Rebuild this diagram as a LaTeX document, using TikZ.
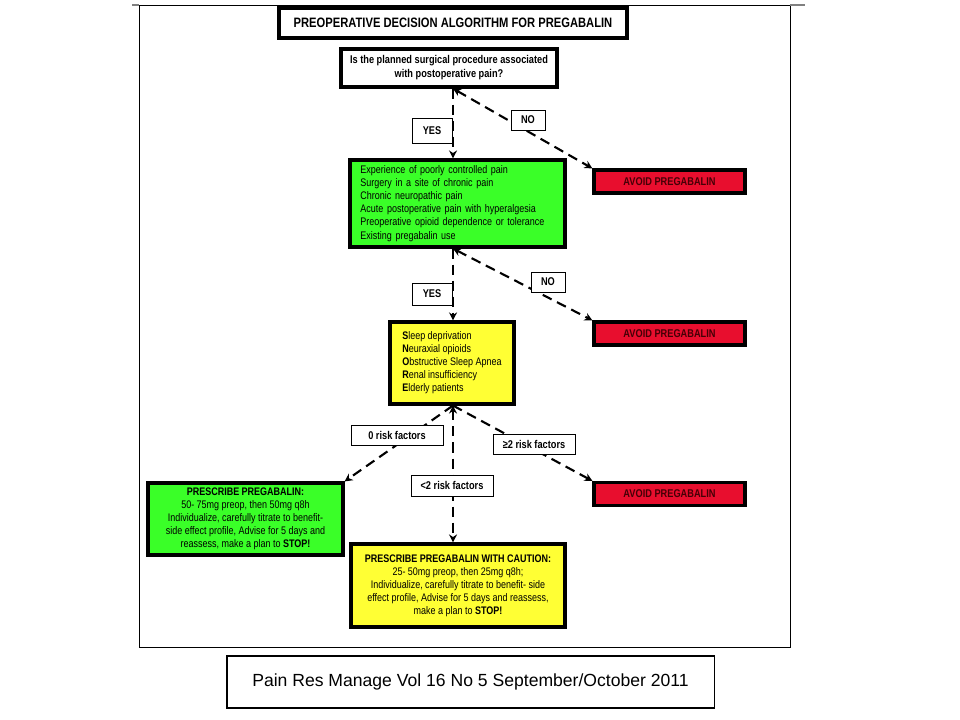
\documentclass[tikz,border=0pt]{standalone}
\usepackage{fontspec}
\setmainfont{Liberation Sans}
\newfontfamily\narrowfont[FakeStretch=0.82]{Liberation Sans}
\usepackage{xcolor}
\usepackage{tikz}
\usetikzlibrary{arrows.meta,positioning,calc}
\definecolor{gGreen}{RGB}{58,255,40}
\definecolor{gYellow}{RGB}{255,255,52}
\definecolor{gRed}{RGB}{232,14,46}
\definecolor{gRedText}{RGB}{70,0,6}
\tikzset{
  box/.style={rectangle, draw=black, line width=2.2pt, inner sep=0pt, font=\narrowfont\fontsize{7.8}{9.3}\selectfont},
  lbox/.style={box, align=left},
  cbox/.style={box, align=center},
  redbox/.style={box, fill=gRed, text=gRedText, minimum width=3.775cm, minimum height=0.575cm, font=\narrowfont\bfseries\fontsize{8}{9}\selectfont},
  tag/.style={rectangle, draw=black, line width=0.6pt, fill=white, inner sep=0pt, font=\narrowfont\bfseries\fontsize{8}{9}\selectfont},
  arrow/.style={{Stealth[length=2mm,width=2mm]}-{Stealth[length=2mm,width=2mm]}, line width=1.5pt, dash pattern=on 2.5mm off 1.5mm},
  arrowone/.style={-{Stealth[length=2mm,width=2mm]}, line width=1.5pt, dash pattern=on 2.5mm off 1.5mm}
}
\begin{document}
\begin{tikzpicture}[x=0.025cm, y=-0.025cm]
  \useasboundingbox (0,0) rectangle (960,720);
  % slide frame
  \draw[line width=0.6pt] (139,5) rectangle (790,647);
  \draw[gray, line width=0.8pt] (132,5) -- (139,5) (790,5) -- (805,5);
  \coordinate (spine) at (453,0);
  % boxes
  \node[cbox, line width=3pt, minimum width=8.7cm, minimum height=0.75cm, font=\narrowfont\bfseries\fontsize{9.7}{11}\selectfont] (title) at (453,23) {PREOPERATIVE DECISION ALGORITHM FOR PREGABALIN};
  \node[cbox, fill=white, minimum width=5.4cm, minimum height=0.95cm, font=\narrowfont\bfseries\fontsize{8}{10}\selectfont] (q) at (449,68) {Is the planned surgical procedure associated\\with postoperative pain?};
  \node[lbox, fill=gGreen, inner xsep=2.6mm, text width=4.855cm, minimum height=2.175cm] (g1) at (457.5,203.5) {Experience of poorly controlled pain\\Surgery in a site of chronic pain\\Chronic neuropathic pain\\Acute postoperative pain with hyperalgesia\\Preoperative opioid dependence or tolerance\\Existing pregabalin use};
  \node[redbox] (r1) at (669.5,181.5) {AVOID PREGABALIN};
  \node[lbox, fill=gYellow, minimum width=3.1cm, minimum height=2.05cm] (y1) at (452,363) {\textbf{S}leep deprivation\\\textbf{N}euraxial opioids\\\textbf{O}bstructive Sleep Apnea\\\textbf{R}enal insufficiency\\\textbf{E}lderly patients};
  \node[redbox] (r2) at (669.5,333.5) {AVOID PREGABALIN};
  \node[cbox, fill=gGreen, minimum width=4.875cm, minimum height=1.8cm] (g2) at (245.5,519) {\textbf{PRESCRIBE PREGABALIN:}\\50- 75mg preop, then 50mg q8h\\Individualize, carefully titrate to benefit-\\side effect profile, Advise for 5 days and\\reassess, make a plan to \textbf{STOP!}};
  \node[redbox] (r3) at (669.5,494) {AVOID PREGABALIN};
  \node[cbox, fill=gYellow, minimum width=5.35cm, minimum height=2.075cm] (y2) at (458,585.5) {\textbf{PRESCRIBE PREGABALIN WITH CAUTION:}\\25- 50mg preop, then 25mg q8h;\\Individualize, carefully titrate to benefit- side\\effect profile, Advise for 5 days and reassess,\\make a plan to \textbf{STOP!}};
  % connectors
  \draw[arrowone] (q.south -| spine) -- (g1.north -| spine);
  \draw[arrow] (q.south -| spine) -- (r1.north west);
  \draw[arrowone] (g1.south -| spine) -- (y1.north -| spine);
  \draw[arrow] (g1.south -| spine) -- (r2.north west);
  \draw[arrowone] (y1.south -| spine) -- (g2.north east);
  \draw[arrow] (y1.south -| spine) -- (y2.north -| spine);
  \draw[arrowone] (y1.south -| spine) -- (r3.north west);
  % labels
  \node[tag, minimum width=1cm, minimum height=0.625cm] (yes1) at (432,130.5) {YES};
  \node[tag, minimum width=0.85cm, minimum height=0.5cm] (no1) at (528,120) {NO};
  \node[tag, minimum width=1cm, minimum height=0.55cm] (yes2) at (432,294) {YES};
  \node[tag, minimum width=0.85cm, minimum height=0.5cm] (no2) at (548,282) {NO};
  \node[tag, minimum width=2.3cm, minimum height=0.5cm] (zero) at (397,435) {0 risk factors};
  \node[tag, minimum width=2.05cm, minimum height=0.5cm] (two) at (534,444) {≥2 risk factors};
  \node[tag, minimum width=2.05cm, minimum height=0.525cm] (less) at (452,485.5) {<2 risk factors};
  % citation
  \node[rectangle, draw=black, line width=0.8pt, minimum width=12.175cm, minimum height=1.3cm, font=\fontsize{12.5}{14}\selectfont] (cite) at (470.5,682) {Pain Res Manage Vol 16 No 5 September/October 2011};
\end{tikzpicture}
\end{document}
